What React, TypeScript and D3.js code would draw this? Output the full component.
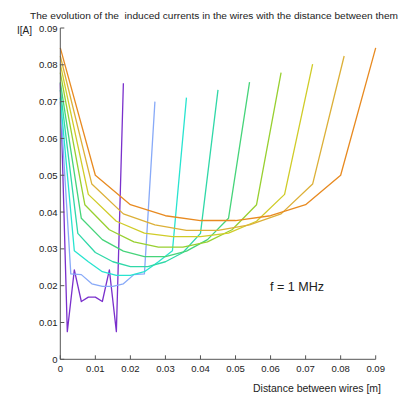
import React from "react";
import * as d3 from "d3";

const W = 406;
const H = 396;

const title = "The evolution of the  induced currents in the wires with the distance between them";
const yLabel = "I[A]";
const xLabel = "Distance between wires [m]";
const note = "f = 1 MHz";

const xTicks = [0, 0.01, 0.02, 0.03, 0.04, 0.05, 0.06, 0.07, 0.08, 0.09];
const yTicks = [0, 0.01, 0.02, 0.03, 0.04, 0.05, 0.06, 0.07, 0.08, 0.09];

// maximum distance of each curve (10 samples from 0 to dmax)
const dMax = [0.018, 0.027, 0.036, 0.045, 0.054, 0.063, 0.072, 0.081, 0.09];

const sPurple = [0.075, 0.0075, 0.0243, 0.0157, 0.0169, 0.0169, 0.0157, 0.0243, 0.0075, 0.075];
const sLightBlue = [0.070, 0.0232, 0.0230, 0.0205, 0.0198, 0.0198, 0.0205, 0.0230, 0.0232, 0.070];
const sCyan = [0.0711, 0.0295, 0.0265, 0.0238, 0.0228, 0.0228, 0.0238, 0.0265, 0.0295, 0.0711];
const sTeal = [0.0732, 0.0342, 0.029, 0.0265, 0.0252, 0.0252, 0.0265, 0.029, 0.0342, 0.0732];
const sGreen = [0.0753, 0.0383, 0.0325, 0.0294, 0.0279, 0.0279, 0.0294, 0.0325, 0.0383, 0.0753];
const sYellowGreen = [0.0779, 0.042, 0.0352, 0.0319, 0.0305, 0.0305, 0.0319, 0.0352, 0.042, 0.0779];
const sYellow = [0.0802, 0.0448, 0.0375, 0.0343, 0.0333, 0.0333, 0.0343, 0.0375, 0.0448, 0.0802];
const sGold = [0.0824, 0.0476, 0.0395, 0.0365, 0.035, 0.035, 0.0365, 0.0395, 0.0476, 0.0824];
const sOrange = [0.0846, 0.050, 0.042, 0.039, 0.0377, 0.0377, 0.039, 0.042, 0.050, 0.0846];

const series = [sPurple, sLightBlue, sCyan, sTeal, sGreen, sYellowGreen, sYellow, sGold, sOrange];
const colors = ["#7a30cc", "#88aaf8", "#28e4d0", "#30d8a8", "#46d47a", "#98d030", "#d0cc28", "#dcb038", "#e88a20"];

export default function App() {
  const x = d3.scaleLinear().domain([0, 0.09]).range([60.3, 375.7]);
  const y = d3.scaleLinear().domain([0, 0.09]).range([359.3, 28]);
  const line = d3
    .line<[number, number]>()
    .x((d) => x(d[0]))
    .y((d) => y(d[1]));

  const axisColor = "#555";
  const textColor = "#222";
  const font = "'Liberation Sans', Arial, sans-serif";

  return (
    <svg
      width={W}
      height={H}
      style={{ position: "absolute", left: 0, top: 0, background: "#fff" }}
      fontFamily={font}
    >
      <text
        x={30}
        y={19}
        fontSize={9.6}
        fill={textColor}
        textLength={368}
        lengthAdjust="spacingAndGlyphs"
        style={{ whiteSpace: "pre" }}
      >
        {title}
      </text>
      <text x={17} y={34} fontSize={10} fill={textColor}>
        {yLabel}
      </text>
      <text x={253} y={392} fontSize={10.5} fill={textColor} textLength={128} lengthAdjust="spacingAndGlyphs">
        {xLabel}
      </text>
      <text x={270} y={291} fontSize={13} fill={textColor} textLength={54} lengthAdjust="spacingAndGlyphs">
        {note}
      </text>

      {series.map((vals, i) => {
        const pts: [number, number][] = vals.map((v, j) => [(j * dMax[i]) / 9, v]);
        return (
          <path key={i} d={line(pts) || ""} fill="none" stroke={colors[i]} strokeWidth={1.3} strokeLinejoin="round" />
        );
      })}

      {/* axes */}
      <line x1={x(0)} x2={x(0.09)} y1={y(0)} y2={y(0)} stroke={axisColor} strokeWidth={1} />
      <line x1={x(0)} x2={x(0)} y1={y(0)} y2={y(0.09)} stroke={axisColor} strokeWidth={1} />
      {xTicks.map((t) => (
        <g key={"x" + t}>
          <line x1={x(t)} x2={x(t)} y1={y(0)} y2={y(0) - 4} stroke={axisColor} strokeWidth={1} />
          <text x={x(t)} y={372} fontSize={9.5} fill={textColor} textAnchor="middle">
            {t === 0 ? "0" : d3.format(".2f")(t)}
          </text>
        </g>
      ))}
      {yTicks.map((t) => (
        <g key={"y" + t}>
          <line x1={x(0)} x2={x(0) + 4} y1={y(t)} y2={y(t)} stroke={axisColor} strokeWidth={1} />
          <text x={57.5} y={y(t) + 3.5} fontSize={9.5} fill={textColor} textAnchor="end">
            {t === 0 ? "0" : d3.format(".2f")(t)}
          </text>
        </g>
      ))}
    </svg>
  );
}
